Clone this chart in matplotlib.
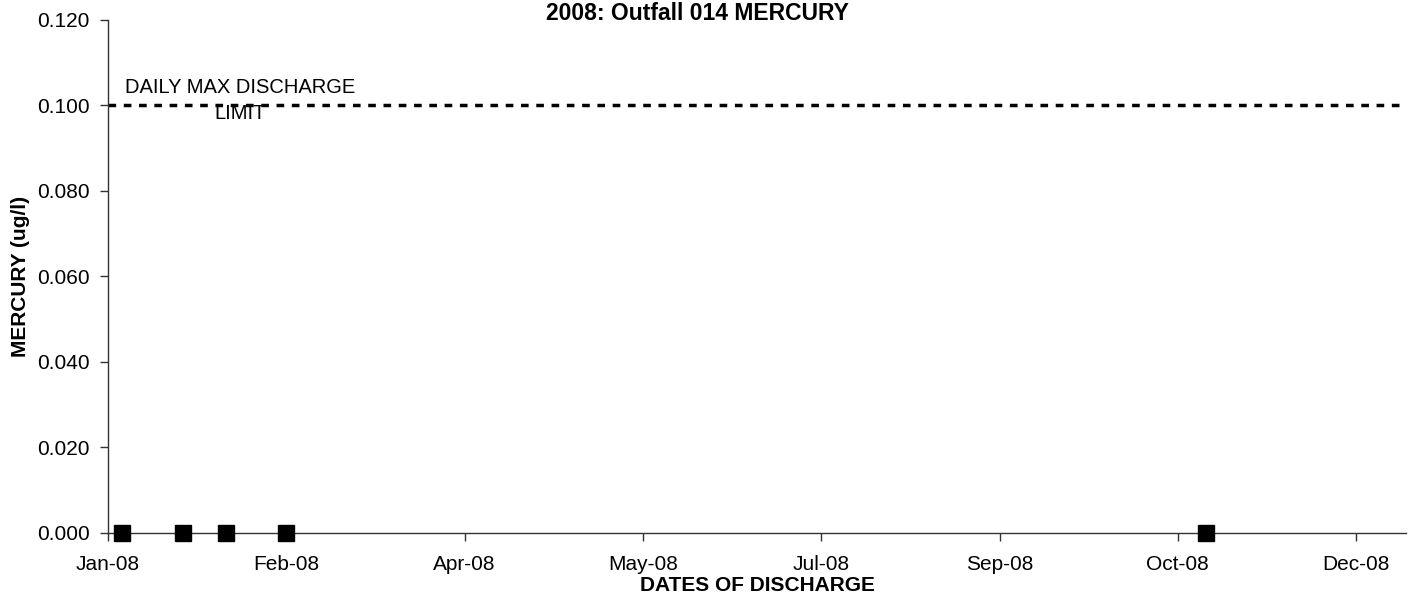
import matplotlib
matplotlib.use("Agg")
import matplotlib.pyplot as plt
import matplotlib.dates as mdates
import datetime as dt

plt.rcParams['font.family'] = ['Liberation Sans', 'DejaVu Sans']

sample_dates = ["2008-01-05", "2008-01-22", "2008-02-03", "2008-02-20", "2008-11-04"]
mercury = [0.0, 0.0, 0.0, 0.0, 0.0]
limit_value = 0.100
tick_start = dt.date(2008, 1, 1)
tick_step_days = 50
yticks = [0.0, 0.02, 0.04, 0.06, 0.08, 0.10, 0.12]

dates = [dt.datetime.strptime(d, "%Y-%m-%d") for d in sample_dates]

fig = plt.figure(figsize=(14.11, 6.0), dpi=100)
ax = fig.add_axes([0.0765, 0.1117, 0.92, 0.855])

xmin = dt.datetime(2008, 1, 1)
xmax = dt.datetime(2008, 12, 30)
ax.plot([xmin, xmax], [limit_value, limit_value], color='black', lw=2.5,
        linestyle=(0, (2.2, 2.2)), clip_on=False, zorder=2)
ax.plot(dates, mercury, linestyle='none', marker='s', markersize=11,
        color='black', clip_on=False, zorder=3)

ax.set_xlim(xmin, xmax)
ax.set_ylim(0, 0.12)
ax.set_yticks(yticks)
ax.yaxis.set_major_formatter(matplotlib.ticker.FormatStrFormatter('%.3f'))
xt = [dt.datetime(2008, 1, 1) + dt.timedelta(days=tick_step_days * i) for i in range(8)]
ax.set_xticks(xt)
ax.xaxis.set_major_formatter(mdates.DateFormatter('%b-%y'))

for s in ['top', 'right']:
    ax.spines[s].set_visible(False)
for s in ['left', 'bottom']:
    ax.spines[s].set_color('#333333')
    ax.spines[s].set_linewidth(1.0)
ax.tick_params(axis='both', labelsize=15, color='#333333', length=6, width=1)
ax.tick_params(axis='y', pad=7)
ax.tick_params(axis='x', pad=10)

ax.text(dt.datetime(2008, 2, 7), 0.1012, "DAILY MAX DISCHARGE\nLIMIT", ha='center',
        va='center', fontsize=14.5, linespacing=1.5, zorder=4)

fig.text(0.494, 0.977, "2008: Outfall 014 MERCURY", ha='center', va='center',
         fontsize=16.5, fontweight='bold')
ax.set_xlabel("DATES OF DISCHARGE", fontsize=15, fontweight='bold', labelpad=1)
ax.yaxis.set_label_coords(-0.06, 0.49)
ax.set_ylabel("MERCURY (ug/l)", fontsize=15, fontweight='bold')

fig.savefig("out.png", dpi=100)
